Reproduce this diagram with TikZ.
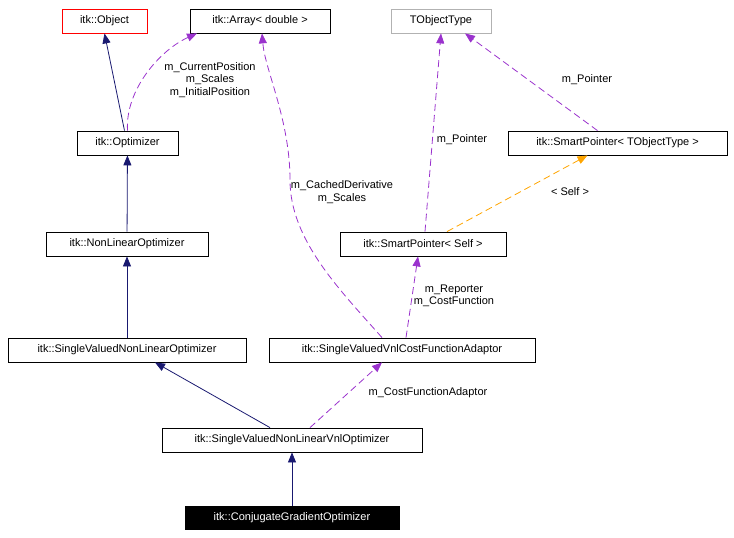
\documentclass[tikz,border=0pt]{standalone}
\usepackage{fontspec}
\setmainfont{Liberation Sans}
\usetikzlibrary{arrows.meta}
\definecolor{navy}{RGB}{25,25,112}
\definecolor{purp}{RGB}{154,50,205}
\definecolor{orng}{RGB}{255,165,0}
\begin{document}
\begin{tikzpicture}[x=1pt,y=-1pt,line width=0.8pt,
  box/.style={draw=black,fill=white,minimum height=24pt,inner sep=0pt,font=\fontsize{11}{12.5}\selectfont},
  inh/.style={navy,-{Triangle[length=10pt,width=8pt]}},
  use/.style={purp,dash pattern=on 7pt off 4pt,-{Triangle[length=10pt,width=8pt]}},
  tpl/.style={orng,dash pattern=on 7pt off 4pt,-{Triangle[length=10pt,width=8pt]}},
  lab/.style={font=\fontsize{11}{12.5}\selectfont,align=center,inner sep=1pt}]
\useasboundingbox (0,0) rectangle (734,538);
\node[box,draw=red,minimum width=85pt] (obj) at (104.5,21) {itk::Object};
\node[box,minimum width=140pt] (arr) at (260,21) {itk::Array< double >};
\node[box,draw=gray!60,minimum width=100pt] (tot) at (441,21) {TObjectType};
\node[box,minimum width=101pt] (opt) at (127.5,143) {itk::Optimizer};
\node[box,minimum width=219pt] (spt) at (617.5,143) {itk::SmartPointer< TObjectType >};
\node[box,minimum width=162pt] (nlo) at (127,244) {itk::NonLinearOptimizer};
\node[box,minimum width=166pt] (sps) at (423,244) {itk::SmartPointer< Self >};
\node[box,minimum width=238pt] (svo) at (127,350) {itk::SingleValuedNonLinearOptimizer};
\node[box,minimum width=266pt] (ada) at (402,350) {itk::SingleValuedVnlCostFunctionAdaptor};
\node[box,minimum width=260pt] (vnl) at (292,440) {itk::SingleValuedNonLinearVnlOptimizer};
\node[box,fill=black,text=white,minimum width=214pt,minimum height=23pt] (cgo) at (292,518) {itk::ConjugateGradientOptimizer};

\draw[inh] (opt.north) ++(-3,0) coordinate (o1) -- (obj.south);
\draw[use] (opt.north) .. controls (125,90) and (160,50) .. ([xshift=-63pt]arr.south);
\node[lab] (l1) at (210,80) {m\_CurrentPosition\\m\_Scales\\m\_InitialPosition};
\draw[inh] (nlo) -- (opt);
\draw[inh] (svo) -- (nlo);
\draw[inh] ([xshift=-22pt]vnl.north) -- ([xshift=28pt]svo.south);
\draw[use] ([xshift=18pt]vnl.north) -- ([xshift=-20pt]ada.south);
\node[lab] (l2) at (428,393) {m\_CostFunctionAdaptor};
\draw[use] ([xshift=4pt]ada.north) -- ([xshift=-5pt]sps.south);
\node[lab] (l3) at (454,296) {m\_Reporter\\m\_CostFunction};
\draw[use] ([xshift=-20pt]ada.north) .. controls (340,290) and (290,240) .. (290,180) .. controls (290,120) and (265,70) .. ([xshift=2pt]arr.south);
\node[lab] (l4) at (342,192) {m\_CachedDerivative\\m\_Scales};
\draw[use] (sps.north) ++(2,0) coordinate (s1) -- (tot.south);
\node[lab,fill=white] (l5) at (462,140) {m\_Pointer};
\draw[use] ([xshift=-20pt]spt.north) -- ([xshift=24pt]tot.south);
\node[lab] (l6) at (587,80) {m\_Pointer};
\draw[tpl] ([xshift=24pt]sps.north) -- ([xshift=-30pt]spt.south);
\node[lab] (l7) at (570,192) {< Self >};
\draw[navy,-{Triangle[length=10pt,width=8pt]}] (cgo) -- (vnl);
\end{tikzpicture}
\end{document}
